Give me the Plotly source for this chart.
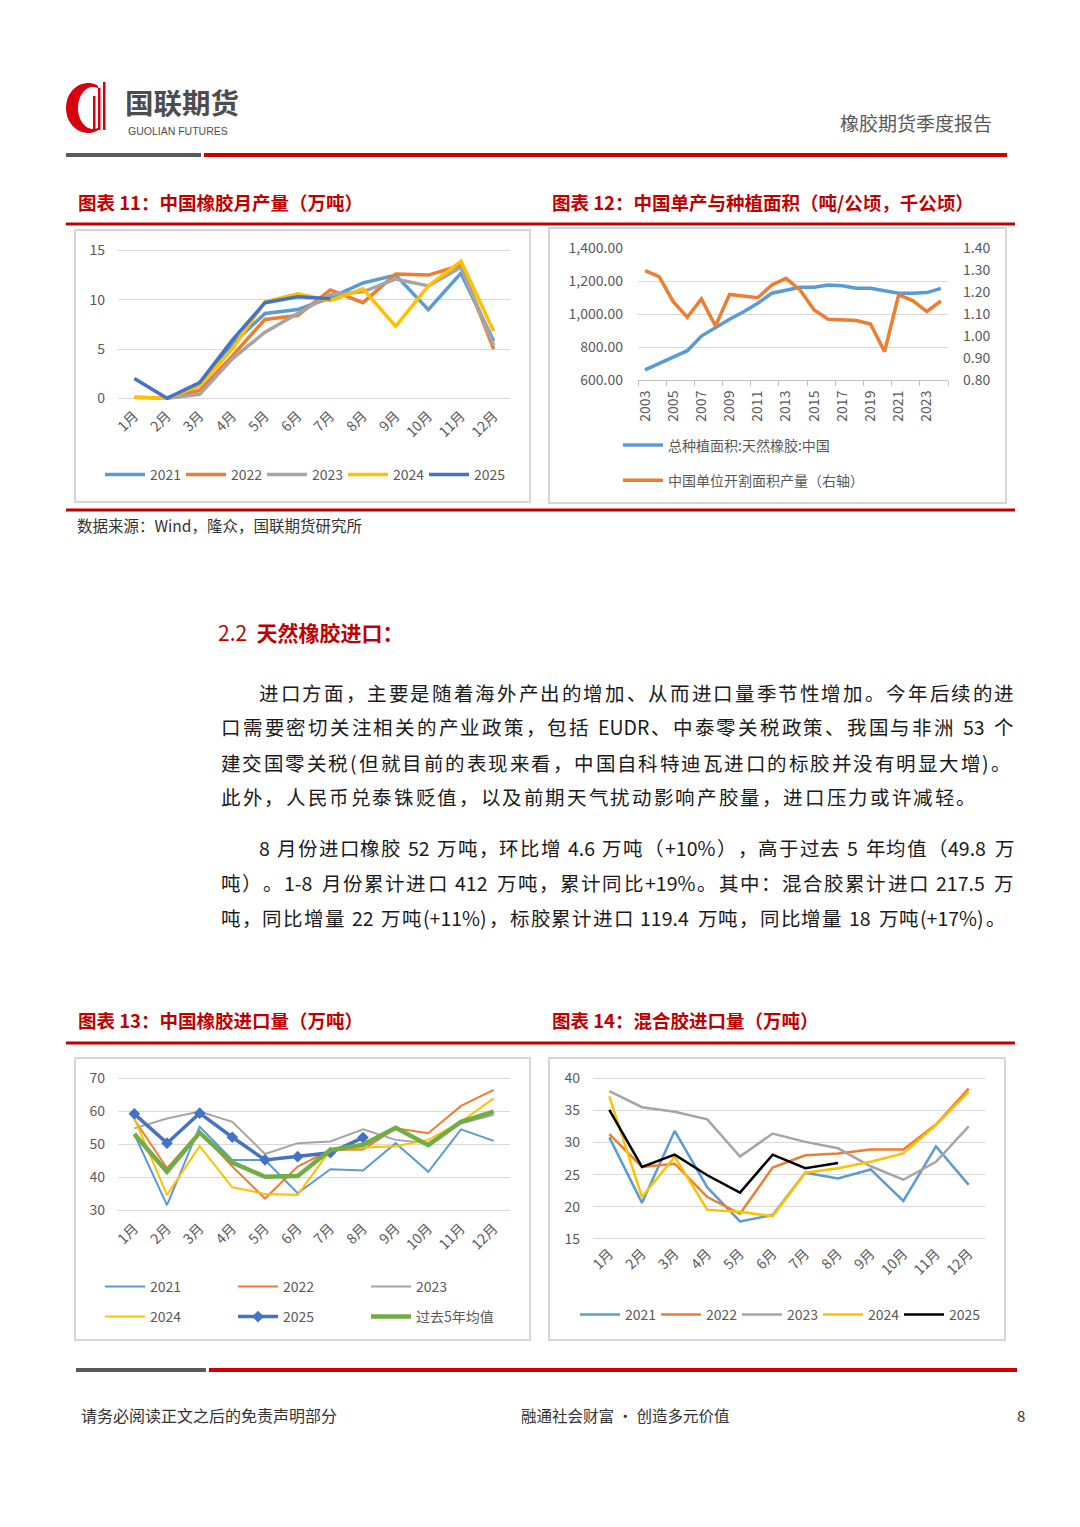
import plotly.graph_objects as go
import numpy as np

W, H = 1080, 1527
FONT = "Noto Sans CJK SC"


def px(x):
    return x / W


def py(y):
    return 1 - y / H


# ---------------- data ----------------
months = ['1月', '2月', '3月', '4月', '5月', '6月', '7月', '8月', '9月', '10月', '11月', '12月']

# 图表11 中国橡胶月产量（万吨）
prod_2021 = [None, 0.0, 1.3, 5.5, 8.6, 9.0, 10.2, 11.7, 12.5, 9.0, 12.7, 5.8]
prod_2022 = [0.1, 0.0, 0.8, 4.3, 8.0, 8.4, 11.0, 9.7, 12.6, 12.5, 13.5, 5.0]
prod_2023 = [None, 0.0, 0.4, 4.0, 6.7, 8.6, 10.5, 10.8, 12.1, 11.4, 13.3, 5.4]
prod_2024 = [0.1, 0.0, 1.3, 5.0, 9.8, 10.6, 9.9, 11.1, 7.3, 11.4, 13.9, 6.8]
prod_2025 = [2.0, 0.0, 1.6, 5.9, 9.7, 10.3, 10.1, None, None, None, None, None]

# 图表12 中国单产与种植面积
years = list(range(2003, 2025))
area_cn = [661, 701, 742, 778, 867, 920, 969, 1015, 1066, 1127, 1147, 1163, 1163, 1177,
           1173, 1157, 1157, 1143, 1127, 1127, 1131, 1157]
yield_cn = [1.298, 1.271, 1.157, 1.086, 1.169, 1.046, 1.190, 1.184, 1.175, 1.233, 1.263,
            1.210, 1.119, 1.077, 1.074, 1.071, 1.055, 0.929, 1.188, 1.162, 1.112, 1.160]

# 图表13 中国橡胶进口量（万吨）
imp_2021 = [53.0, 31.5, 55.3, 45.2, 45.2, 35.1, 42.4, 42.0, 50.3, 41.6, 54.5, 51.0]
imp_2022 = [57.5, 42.7, 53.8, 43.2, 33.5, 43.2, 48.2, 48.4, 54.8, 53.3, 61.6, 66.5]
imp_2023 = [54.8, 57.8, 59.9, 56.8, 47.0, 50.3, 50.8, 54.5, 51.3, 50.3, 56.3, 58.9]
imp_2024 = [57.8, 34.6, 49.4, 36.9, 34.9, 34.6, 48.2, 49.0, 49.4, 51.3, 56.8, 63.9]
imp_2025 = [59.2, 50.3, 59.4, 52.1, 45.2, 46.2, 47.4, 52.0, None, None, None, None]
imp_avg5 = [53.1, 41.6, 53.5, 44.4, 40.1, 40.3, 48.2, 49.8, 55.0, 49.7, 56.8, 59.9]

# 图表14 混合胶进口量（万吨）
mix_2021 = [30.8, 20.6, 31.8, 23.0, 17.7, 18.7, 25.3, 24.4, 25.8, 20.9, 29.4, 23.4]
mix_2022 = [31.3, 26.2, 26.7, 21.5, 18.9, 26.1, 28.0, 28.3, 28.9, 28.9, 32.8, 38.4]
mix_2023 = [38.0, 35.5, 34.8, 33.6, 27.8, 31.4, 30.1, 29.1, 26.3, 24.2, 27.0, 32.5]
mix_2024 = [37.2, 21.5, 27.8, 19.5, 19.2, 18.5, 25.3, 26.0, 27.0, 28.3, 32.7, 37.9]
mix_2025 = [35.1, 26.2, 28.1, 24.9, 22.2, 28.1, 26.0, 26.8, None, None, None, None]

C21, C22, C23, C24, C25, CG = '#5B9BD5', '#ED7D31', '#A5A5A5', '#FFC000', '#4472C4', '#70AD47'
RED = '#C00000'
TICKF = dict(family=FONT, size=14, color='#595959')
LEGF = dict(family=FONT, size=14, color='#595959')

fig = go.Figure()

# ---- chart 11 ----
for name, vals, col in [('2021', prod_2021, C21), ('2022', prod_2022, C22), ('2023', prod_2023, C23),
                        ('2024', prod_2024, C24), ('2025', prod_2025, C25)]:
    fig.add_trace(go.Scatter(x=months, y=vals, name=name, mode='lines',
                             line=dict(color=col, width=3.5), xaxis='x', yaxis='y',
                             legend='legend', connectgaps=False))

# ---- chart 12 ----
fig.add_trace(go.Scatter(x=years, y=area_cn, name='总种植面积:天然橡胶:中国', mode='lines',
                         line=dict(color=C21, width=3.5), xaxis='x2', yaxis='y2',
                         legend='legend2', legendgroup='a'))
fig.add_trace(go.Scatter(x=years, y=yield_cn, name='中国单位开割面积产量（右轴）', mode='lines',
                         line=dict(color=C22, width=3.5), xaxis='x2', yaxis='y3',
                         legend='legend2', legendgroup='b'))

# ---- chart 13 ----
for name, vals, col, wd, lg in [('2021', imp_2021, C21, 2, 'legend3'), ('2022', imp_2022, C22, 2, 'legend3'),
                                ('2023', imp_2023, C23, 2, 'legend3'), ('2024', imp_2024, C24, 2, 'legend4')]:
    fig.add_trace(go.Scatter(x=months, y=vals, name=name, mode='lines',
                             line=dict(color=col, width=wd), xaxis='x3', yaxis='y4', legend=lg))
fig.add_trace(go.Scatter(x=months, y=imp_2025, name='2025', mode='lines+markers',
                         line=dict(color=C25, width=3.5),
                         marker=dict(symbol='diamond', size=9, color=C25),
                         xaxis='x3', yaxis='y4', legend='legend4'))
fig.add_trace(go.Scatter(x=months, y=imp_avg5, name='过去5年均值', mode='lines',
                         line=dict(color=CG, width=4.5), xaxis='x3', yaxis='y4', legend='legend4'))

# ---- chart 14 ----
for name, vals, col in [('2021', mix_2021, C21), ('2022', mix_2022, C22), ('2023', mix_2023, C23),
                        ('2024', mix_2024, C24), ('2025', mix_2025, '#000000')]:
    fig.add_trace(go.Scatter(x=months, y=vals, name=name, mode='lines',
                             line=dict(color=col, width=2.5), xaxis='x4', yaxis='y5', legend='legend5'))


def cat_x(d0, d1, anchor):
    return dict(domain=[px(d0), px(d1)], type='category', range=[-0.5, 11.5], anchor=anchor,
                tickangle=-45, tickfont=TICKF, showgrid=False, showline=False, ticks='',
                zeroline=False, fixedrange=True, automargin=False)


def val_y(top, bottom, rng, tv, anchor):
    return dict(domain=[py(bottom), py(top)], range=rng, tickvals=tv, tickfont=TICKF,
                showgrid=True, gridcolor='#D9D9D9', gridwidth=1, zeroline=False, showline=False,
                ticks='', anchor=anchor, ticklabelstandoff=12, fixedrange=True, automargin=False)


# ---- shapes ----
shapes = []


def hline(x0, x1, y, color, width):
    shapes.append(dict(type='line', xref='paper', yref='paper', x0=px(x0), x1=px(x1), y0=py(y), y1=py(y),
                       line=dict(color=color, width=width)))


def box(x0, y0, x1, y1):
    shapes.append(dict(type='rect', xref='paper', yref='paper', x0=px(x0), x1=px(x1), y0=py(y1), y1=py(y0),
                       line=dict(color='#D6D6D6', width=2), fillcolor='rgba(0,0,0,0)', layer='below'))


hline(66, 201, 155, '#595959', 4)
hline(204, 1007, 155, '#CC0000', 4)
hline(66, 1015, 224, RED, 3)
hline(66, 1015, 510, RED, 3)
hline(66, 1015, 1043, RED, 3)
hline(76, 206, 1370, '#595959', 4)
hline(209, 1017, 1370, '#CC0000', 4)
box(75, 230, 530, 502)
box(549, 228, 1006, 503)
box(75, 1058, 530, 1340)
box(549, 1058, 1005, 1340)

# logo crescent
cx, cy = 88, 108
th_o = np.linspace(np.radians(65), np.radians(295), 60)
th_i = th_o[::-1]
pts = [(cx + 22 * np.cos(t), cy - 25 * np.sin(t)) for t in th_o]
pts += [(cx + 5 + 15 * np.cos(t), cy - 21 * np.sin(t)) for t in th_i]
path = 'M ' + ' L '.join(f'{px(a):.5f},{py(b):.5f}' for a, b in pts) + ' Z'
shapes.append(dict(type='path', xref='paper', yref='paper', path=path, fillcolor='#D7000F',
                   line=dict(width=0)))
for bx, top in [(93, 96), (98, 88), (103, 82)]:
    shapes.append(dict(type='rect', xref='paper', yref='paper', x0=px(bx), x1=px(bx + 2.5),
                       y0=py(130), y1=py(top), fillcolor='#D7000F', line=dict(width=0)))

# ---- annotations ----
ann = []


def text(x, y, s, size, color='#333333', xanchor='left', bold=False, family=FONT):
    ann.append(dict(xref='paper', yref='paper', x=px(x), y=py(y), text=(f'<b>{s}</b>' if bold else s),
                    showarrow=False, xanchor=xanchor, yanchor='middle', borderpad=0,
                    font=dict(family=family, size=size, color=color)))


text(124, 102, '国联期货', 28.5, '#4D4D4D', bold=True)
text(127, 131, 'GUOLIAN FUTURES', 10.5, '#4D4D4D', family='Liberation Sans')
text(993, 122, '橡胶期货季度报告', 19, '#595959', xanchor='right')

text(77, 202, '图表 11：中国橡胶月产量（万吨）', 18.5, RED, bold=True)
text(551, 202, '图表 12：中国单产与种植面积（吨/公顷，千公顷）', 18.5, RED, bold=True)
text(77, 1020, '图表 13：中国橡胶进口量（万吨）', 18.5, RED, bold=True)
text(551, 1020, '图表 14：混合胶进口量（万吨）', 18.5, RED, bold=True)
text(76, 525, '数据来源：Wind，隆众，国联期货研究所', 15.5, '#333333')
text(217, 632, '2.2  <b>天然橡胶进口：</b>', 21, RED)

text(80, 1415, '请务必阅读正文之后的免责声明部分', 16, '#333333')
text(625, 1415, '融通社会财富 · 创造多元价值', 15.5, '#333333', xanchor='center')
text(1026, 1415, '8', 15, '#333333', xanchor='right')

ASCII_W = {' ': 0.25, '.': 0.28, ',': 0.28, '%': 0.9, '(': 0.36, ')': 0.36, '+': 0.58, '-': 0.36,
           'E': 0.58, 'U': 0.7, 'D': 0.7, 'R': 0.62}


def is_wide(c):
    return len(c) == 1 and ord(c) >= 0x2E80


def tokenize(s):
    out, buf = [], ''
    for c in s:
        if is_wide(c) or c == ' ':
            if buf:
                out.append(buf)
                buf = ''
            out.append(c)
        else:
            buf += c
    if buf:
        out.append(buf)
    return out


def tok_w(t, fs):
    if is_wide(t):
        return fs
    return sum(ASCII_W.get(c, 0.57) for c in t) * fs


def justified(line, x0, x1, y, fs=19.5, color='#1A1A1A'):
    toks = tokenize(line)
    ws = [tok_w(t, fs) for t in toks]
    extra = (x1 - x0 - sum(ws)) / max(1, len(toks) - 1)
    cur = x0
    for t, w in zip(toks, ws):
        if t != ' ':
            ann.append(dict(xref='paper', yref='paper', x=px(cur), y=py(y), text=t, showarrow=False,
                            xanchor='left', yanchor='middle', borderpad=0,
                            font=dict(family=FONT, size=fs, color=color)))
        cur += w + extra


para = [
    ('进口方面，主要是随着海外产出的增加、从而进口量季节性增加。今年后续的进', 258, 1013, 692),
    ('口需要密切关注相关的产业政策，包括 EUDR、中泰零关税政策、我国与非洲 53 个', 220, 1013, 727),
    ('建交国零关税(但就目前的表现来看，中国自科特迪瓦进口的标胶并没有明显大增)。', 220, 1010, 762),
    ('此外，人民币兑泰铢贬值，以及前期天气扰动影响产胶量，进口压力或许减轻。', 220, 975, 797),
    ('8 月份进口橡胶 52 万吨，环比增 4.6 万吨（+10%），高于过去 5 年均值（49.8 万', 258, 1013, 847),
    ('吨）。1-8 月份累计进口 412 万吨，累计同比+19%。其中：混合胶累计进口 217.5 万', 220, 1013, 882),
    ('吨，同比增量 22 万吨(+11%)，标胶累计进口 119.4 万吨，同比增量 18 万吨(+17%)。', 220, 1005, 917),
]
for s, a, b, y in para:
    justified(s, a, b, y)

legend_common = dict(font=LEGF, bgcolor='rgba(0,0,0,0)', borderwidth=0, xanchor='left', yanchor='middle',
                     itemclick=False, itemdoubleclick=False, itemwidth=40)

fig.update_layout(
    width=W, height=H, autosize=False,
    margin=dict(l=0, r=0, t=0, b=0, pad=0, autoexpand=False),
    paper_bgcolor='white', plot_bgcolor='white',
    font=dict(family=FONT),
    xaxis=cat_x(118, 510, 'y'),
    yaxis=val_y(247.5, 404.2, [-0.6, 15.3], [0, 5, 10, 15], 'x'),
    xaxis2=dict(domain=[px(638), px(948)], range=[2002.5, 2024.5], anchor='y2', tickmode='linear',
                tick0=2003, dtick=2, tickangle=-90, tickfont=TICKF, showgrid=False, zeroline=False,
                showline=True, linecolor='#BFBFBF', linewidth=1, ticks='',
                minor=dict(ticks='outside', tick0=2002.5, dtick=2, ticklen=5, tickcolor='#BFBFBF',
                           showgrid=False),
                ticklabelstandoff=4, fixedrange=True, automargin=False),
    yaxis2=dict(domain=[py(380), py(248.3)], range=[600, 1400], tickmode='linear', tick0=600, dtick=200,
                tickformat=',.2f', tickfont=TICKF, showgrid=True, gridcolor='#D9D9D9', zeroline=False,
                showline=False, ticks='', anchor='x2', ticklabelstandoff=14, fixedrange=True,
                automargin=False),
    yaxis3=dict(domain=[py(380), py(248.3)], range=[0.8, 1.4], tickmode='linear', tick0=0.8, dtick=0.1,
                tickformat='.2f', tickfont=TICKF, showgrid=False, zeroline=False, showline=False,
                ticks='', anchor='x2', overlaying='y2', side='right', ticklabelstandoff=14,
                fixedrange=True, automargin=False),
    xaxis3=cat_x(118, 510, 'y4'),
    yaxis4=val_y(1075, 1216.6, [28, 71], [30, 40, 50, 60, 70], 'x3'),
    xaxis4=cat_x(593, 985, 'y5'),
    yaxis5=val_y(1075.1, 1242, [14.5, 40.5], [15, 20, 25, 30, 35, 40], 'x4'),
    legend=dict(legend_common, orientation='h', x=px(100), y=py(475), entrywidth=26),
    legend2=dict(legend_common, orientation='v', x=px(618), y=py(463), tracegroupgap=14),
    legend3=dict(legend_common, orientation='h', x=px(100), y=py(1287), entrywidth=78),
    legend4=dict(legend_common, orientation='h', x=px(100), y=py(1317), entrywidth=78),
    legend5=dict(legend_common, orientation='h', x=px(575), y=py(1315), entrywidth=26),
    shapes=shapes,
    annotations=ann,
    showlegend=True,
)

fig.write_html('out.html', config={'displayModeBar': False},
               post_script="document.body.style.margin='0';document.body.style.padding='0';")
